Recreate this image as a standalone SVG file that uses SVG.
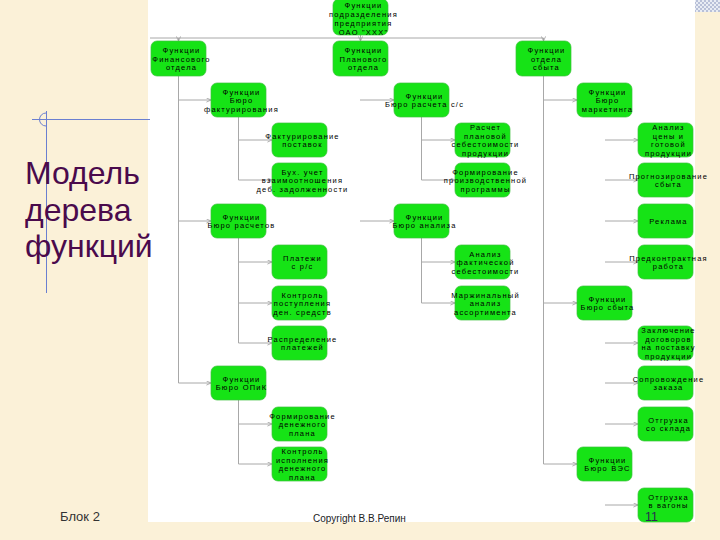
<svg xmlns="http://www.w3.org/2000/svg" width="720" height="540" viewBox="0 0 720 540">
<style>
.n rect{fill:#16e316;stroke:#3cc03c;stroke-width:0.7}
.n text{font-family:"Liberation Sans",Arial,sans-serif;font-size:7.5px;letter-spacing:1.2px;fill:#000;text-anchor:middle;dominant-baseline:central}
.c path{fill:none;stroke:#a8a8a8;stroke-width:1}
.h{marker-end:url(#a)}
</style>
<defs>
<marker id="a" viewBox="0 0 6 6" refX="5.5" refY="3" markerWidth="5" markerHeight="5" markerUnits="userSpaceOnUse" orient="auto">
<path d="M0,0.5 L5.5,3 L0,5.5" fill="none" stroke="#a0a0a0" stroke-width="1"/>
</marker>
<pattern id="chk" width="4" height="4" patternUnits="userSpaceOnUse">
<rect width="4" height="4" fill="#e8ecf4"/><rect width="2" height="2" fill="#b8c0d8"/><rect x="2" y="2" width="2" height="2" fill="#b8c0d8"/>
</pattern>
</defs>
<rect width="720" height="540" fill="#fbf1d8"/>
<rect x="148" y="0" width="547" height="522" fill="#ffffff"/>
<rect x="695" y="0" width="25" height="12" fill="url(#chk)"/>
<g id="guides" stroke="#6a7fd0" stroke-width="1" fill="none">
<path d="M32,119.5 H150"/>
<path d="M46.5,111 V293"/>
<path d="M46,113 A6.5,6.5 0 1 0 46,126"/>
</g>
<g id="title" font-family="'Liberation Sans',Arial,sans-serif" font-size="32" fill="#4a0a4c">
<text x="25" y="184">Модель</text>
<text x="25" y="221">дерева</text>
<text x="25" y="257">функций</text>
</g>
<text x="60" y="521" font-family="'Liberation Sans',Arial,sans-serif" font-size="13" fill="#333">Блок 2</text>
<text x="313" y="522" font-family="'Liberation Sans',Arial,sans-serif" font-size="10" fill="#222">Copyright В.В.Репин</text>

<g class="c" id="connectors">
<path d="M360.5,35 V38"/>
<path d="M150,38 H543.5"/>
<path class="h" d="M178.5,38 V41"/>
<path class="h" d="M360.5,38 V41"/>
<path class="h" d="M543.5,38 V41"/>
<path d="M178.5,76 V383"/>
<path class="h" d="M178.5,100 H211"/>
<path class="h" d="M178.5,221 H211"/>
<path class="h" d="M178.5,383 H211"/>
<path d="M238.5,117 V180"/>
<path class="h" d="M238.5,140 H272"/>
<path class="h" d="M238.5,180 H272"/>
<path d="M238.5,238 V343"/>
<path class="h" d="M238.5,262 H272"/>
<path class="h" d="M238.5,303 H272"/>
<path class="h" d="M238.5,343 H272"/>
<path d="M238.5,400 V464"/>
<path class="h" d="M238.5,424 H272"/>
<path class="h" d="M238.5,464 H272"/>
<path class="h" d="M360,100 H394"/>
<path class="h" d="M360,221 H394"/>
<path d="M421.5,117 V180"/>
<path class="h" d="M421.5,140 H455"/>
<path class="h" d="M421.5,180 H455"/>
<path d="M421.5,238 V303"/>
<path class="h" d="M421.5,262 H455"/>
<path class="h" d="M421.5,303 H455"/>
<path d="M543.5,76 V464"/>
<path class="h" d="M543.5,100 H577"/>
<path class="h" d="M543.5,303 H577"/>
<path class="h" d="M543.5,464 H577"/>
<path class="h" d="M605,140 H638"/>
<path class="h" d="M605,180 H638"/>
<path class="h" d="M605,221 H638"/>
<path class="h" d="M605,262 H638"/>
<path class="h" d="M605,343 H638"/>
<path class="h" d="M605,383 H638"/>
<path class="h" d="M605,424 H638"/>
<path class="h" d="M605,505 H638"/>
</g>

<g class="n" id="root"><rect x="333" y="-1" width="55" height="36" rx="6"/>
<text><tspan x="363.5" y="4.5">Функции</tspan><tspan x="363.5" y="13.5">подразделения</tspan><tspan x="363.5" y="22.5">предприятия</tspan><tspan x="363.5" y="31.5">ОАО "XXX"</tspan></text></g>

<g class="n" id="fin"><rect x="151" y="41" width="55" height="35" rx="6"/>
<text><tspan x="181.5" y="50">Функции</tspan><tspan x="181.5" y="58.5">Финансового</tspan><tspan x="181.5" y="67">отдела</tspan></text></g>
<g class="n" id="plan"><rect x="333" y="41" width="55" height="35" rx="6"/>
<text><tspan x="363.5" y="50">Функции</tspan><tspan x="363.5" y="58.5">Планового</tspan><tspan x="363.5" y="67">отдела</tspan></text></g>
<g class="n" id="sales"><rect x="516" y="41" width="55" height="35" rx="6"/>
<text><tspan x="546.5" y="50">Функции</tspan><tspan x="546.5" y="58.5">отдела</tspan><tspan x="546.5" y="67">сбыта</tspan></text></g>

<g class="n" id="bfact"><rect x="211" y="83" width="55" height="34" rx="6"/>
<text><tspan x="241.5" y="91.5">Функции</tspan><tspan x="241.5" y="100">Бюро</tspan><tspan x="241.5" y="108.5">фактурирования</tspan></text></g>
<g class="n" id="factpost"><rect x="272" y="123" width="55" height="34" rx="6"/>
<text><tspan x="302.5" y="135.75">Фактурирование</tspan><tspan x="302.5" y="144.25">поставок</tspan></text></g>
<g class="n" id="buh"><rect x="272" y="163" width="55" height="34" rx="6"/>
<text><tspan x="302.5" y="171.5">Бух. учет</tspan><tspan x="302.5" y="180">взаимоотношения</tspan><tspan x="302.5" y="188.5">деб. задолженности</tspan></text></g>
<g class="n" id="brasch"><rect x="211" y="204" width="55" height="34" rx="6"/>
<text><tspan x="241.5" y="216.75">Функции</tspan><tspan x="241.5" y="225.25">Бюро расчетов</tspan></text></g>
<g class="n" id="plat"><rect x="272" y="245" width="55" height="34" rx="6"/>
<text><tspan x="302.5" y="257.75">Платежи</tspan><tspan x="302.5" y="266.25">с р/с</tspan></text></g>
<g class="n" id="kontrpost"><rect x="272" y="286" width="55" height="34" rx="6"/>
<text><tspan x="302.5" y="294.5">Контроль</tspan><tspan x="302.5" y="303">поступления</tspan><tspan x="302.5" y="311.5">ден. средств</tspan></text></g>
<g class="n" id="raspr"><rect x="272" y="326" width="55" height="34" rx="6"/>
<text><tspan x="302.5" y="338.75">Распределение</tspan><tspan x="302.5" y="347.25">платежей</tspan></text></g>
<g class="n" id="bopik"><rect x="211" y="366" width="55" height="34" rx="6"/>
<text><tspan x="241.5" y="378.75">Функции</tspan><tspan x="241.5" y="387.25">Бюро ОПиК</tspan></text></g>
<g class="n" id="formden"><rect x="272" y="407" width="55" height="34" rx="6"/>
<text><tspan x="302.5" y="415.5">Формирование</tspan><tspan x="302.5" y="424">денежного</tspan><tspan x="302.5" y="432.5">плана</tspan></text></g>
<g class="n" id="kontrisp"><rect x="272" y="447" width="55" height="34" rx="6"/>
<text><tspan x="302.5" y="451.25">Контроль</tspan><tspan x="302.5" y="459.75">исполнения</tspan><tspan x="302.5" y="468.25">денежного</tspan><tspan x="302.5" y="476.75">плана</tspan></text></g>

<g class="n" id="bss"><rect x="394" y="83" width="55" height="34" rx="6"/>
<text><tspan x="424.5" y="95.75">Функции</tspan><tspan x="424.5" y="104.25">Бюро расчета с/с</tspan></text></g>
<g class="n" id="raschplan"><rect x="455" y="123" width="55" height="34" rx="6"/>
<text><tspan x="485.5" y="127.25">Расчет</tspan><tspan x="485.5" y="135.75">плановой</tspan><tspan x="485.5" y="144.25">себестоимости</tspan><tspan x="485.5" y="152.75">продукции</tspan></text></g>
<g class="n" id="formprog"><rect x="455" y="163" width="55" height="34" rx="6"/>
<text><tspan x="485.5" y="171.5">Формирование</tspan><tspan x="485.5" y="180">производственной</tspan><tspan x="485.5" y="188.5">программы</tspan></text></g>
<g class="n" id="banal"><rect x="394" y="204" width="55" height="34" rx="6"/>
<text><tspan x="424.5" y="216.75">Функции</tspan><tspan x="424.5" y="225.25">Бюро анализа</tspan></text></g>
<g class="n" id="analfact"><rect x="455" y="245" width="55" height="34" rx="6"/>
<text><tspan x="485.5" y="253.5">Анализ</tspan><tspan x="485.5" y="262">фактической</tspan><tspan x="485.5" y="270.5">себестоимости</tspan></text></g>
<g class="n" id="marzh"><rect x="455" y="286" width="55" height="34" rx="6"/>
<text><tspan x="485.5" y="294.5">Маржинальный</tspan><tspan x="485.5" y="303">анализ</tspan><tspan x="485.5" y="311.5">ассортимента</tspan></text></g>

<g class="n" id="bmark"><rect x="577" y="83" width="55" height="34" rx="6"/>
<text><tspan x="607.5" y="91.5">Функции</tspan><tspan x="607.5" y="100">Бюро</tspan><tspan x="607.5" y="108.5">маркетинга</tspan></text></g>
<g class="n" id="analcen"><rect x="638" y="123" width="55" height="34" rx="6"/>
<text><tspan x="668.5" y="127.25">Анализ</tspan><tspan x="668.5" y="135.75">цены и</tspan><tspan x="668.5" y="144.25">готовой</tspan><tspan x="668.5" y="152.75">продукции</tspan></text></g>
<g class="n" id="progn"><rect x="638" y="163" width="55" height="34" rx="6"/>
<text><tspan x="668.5" y="175.75">Прогнозирование</tspan><tspan x="668.5" y="184.25">сбыта</tspan></text></g>
<g class="n" id="rekl"><rect x="638" y="204" width="55" height="34" rx="6"/>
<text><tspan x="668.5" y="221">Реклама</tspan></text></g>
<g class="n" id="predk"><rect x="638" y="245" width="55" height="34" rx="6"/>
<text><tspan x="668.5" y="257.75">Предконтрактная</tspan><tspan x="668.5" y="266.25">работа</tspan></text></g>
<g class="n" id="bsbyt"><rect x="577" y="286" width="55" height="34" rx="6"/>
<text><tspan x="607.5" y="298.75">Функции</tspan><tspan x="607.5" y="307.25">Бюро сбыта</tspan></text></g>
<g class="n" id="zakl"><rect x="638" y="326" width="55" height="34" rx="6"/>
<text><tspan x="668.5" y="330.25">Заключение</tspan><tspan x="668.5" y="338.75">договоров</tspan><tspan x="668.5" y="347.25">на поставку</tspan><tspan x="668.5" y="355.75">продукции</tspan></text></g>
<g class="n" id="sopr"><rect x="638" y="366" width="55" height="34" rx="6"/>
<text><tspan x="668.5" y="378.75">Сопровождение</tspan><tspan x="668.5" y="387.25">заказа</tspan></text></g>
<g class="n" id="otgsk"><rect x="638" y="407" width="55" height="34" rx="6"/>
<text><tspan x="668.5" y="419.75">Отгрузка</tspan><tspan x="668.5" y="428.25">со склада</tspan></text></g>
<g class="n" id="bves"><rect x="577" y="447" width="55" height="34" rx="6"/>
<text><tspan x="607.5" y="459.75">Функции</tspan><tspan x="607.5" y="468.25">Бюро ВЭС</tspan></text></g>
<g class="n" id="otgvag"><rect x="638" y="488" width="55" height="34" rx="6"/>
<text><tspan x="668.5" y="496.5">Отгрузка</tspan><tspan x="668.5" y="505">в вагоны</tspan></text></g>

<text x="645" y="521" font-family="'Liberation Sans',Arial,sans-serif" font-size="12.5" fill="#2a2a50">11</text>
</svg>
